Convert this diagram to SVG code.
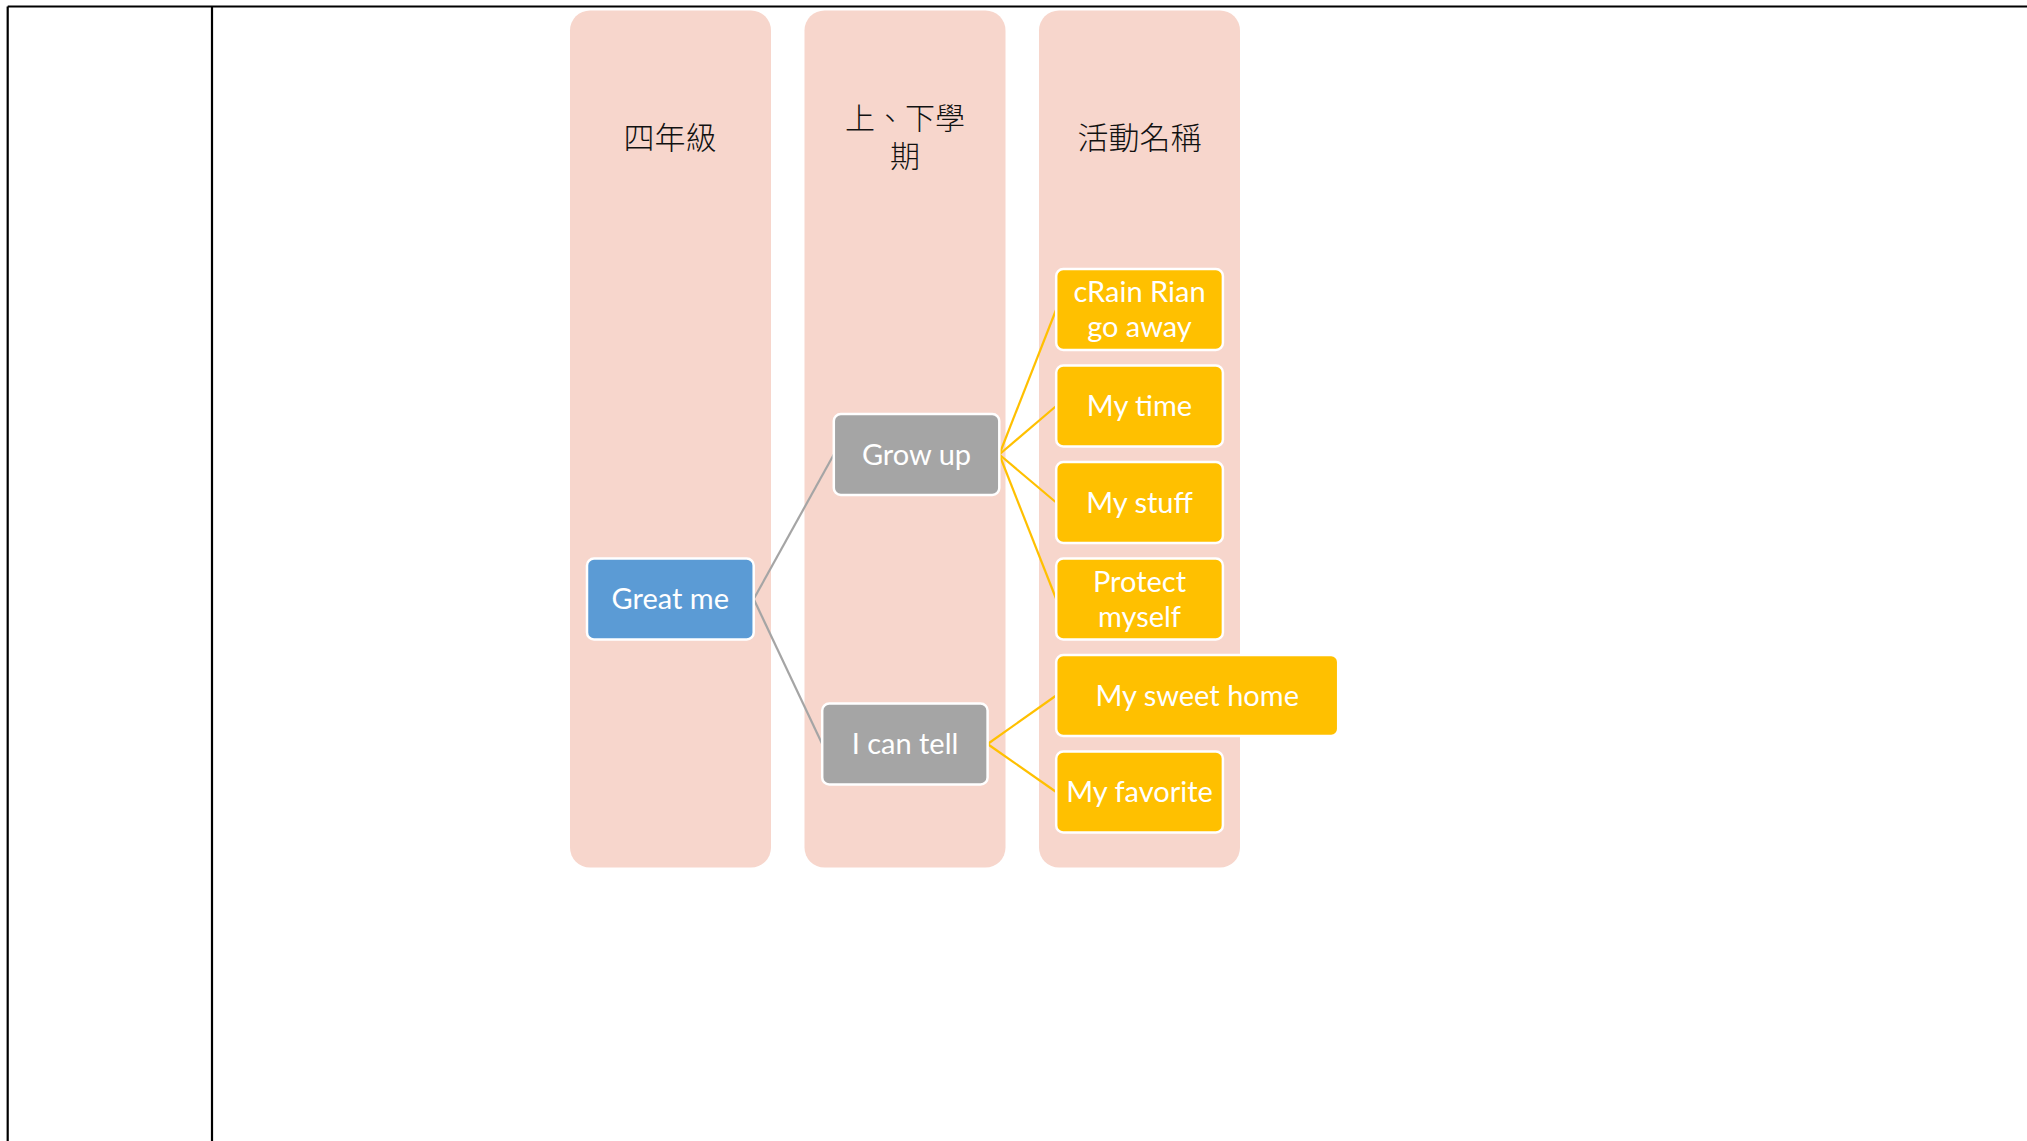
<svg xmlns="http://www.w3.org/2000/svg" width="2027" height="1141" viewBox="0 0 2027 1141">
<style>
.frame{stroke:#000;stroke-width:2.2;fill:none}
.col{fill:#F7D6CC}
.hdr{font-family:"Noto Sans CJK TC","Noto Sans CJK SC",sans-serif;font-size:31px;font-weight:300;fill:#111;text-anchor:middle}
.hdr2{font-family:"Noto Sans CJK TC","Noto Sans CJK SC",sans-serif;font-size:30px;font-weight:300;fill:#111;text-anchor:middle}
.node{stroke:#fff;stroke-width:2.5}
.blue{fill:#5B9BD5}
.gray{fill:#A5A5A5}
.gold{fill:#FFC000}
.lbl{font-family:Lato,"Open Sans",sans-serif;font-size:29px;fill:#fff;text-anchor:middle}
.cg{stroke:#A5A5A5;stroke-width:2.2;fill:none}
.co{stroke:#FFC000;stroke-width:2.2;fill:none}
</style>
<rect width="2027" height="1141" fill="#fff"/>
<g id="frame">
<line class="frame" x1="7.7" y1="6.5" x2="2027" y2="6.5"/>
<line class="frame" x1="7.7" y1="6.5" x2="7.7" y2="1141"/>
<line class="frame" x1="212" y1="6.5" x2="212" y2="1141"/>
</g>
<g id="columns">
<g id="col1"><rect class="col" x="570" y="10.5" width="201" height="857" rx="20"/><text class="hdr" x="670" y="149">四年級</text></g>
<g id="col2"><rect class="col" x="804.5" y="10.5" width="201" height="857" rx="20"/><text class="hdr2" x="905" y="129">上、下學</text><text class="hdr2" x="905" y="167">期</text></g>
<g id="col3"><rect class="col" x="1039" y="10.5" width="201" height="857" rx="20"/><text class="hdr" x="1139.5" y="149">活動名稱</text></g>
</g>
<g id="connectors">
<line class="cg" x1="753.7" y1="599" x2="833.8" y2="454.5"/>
<line class="cg" x1="753.7" y1="599" x2="822.2" y2="744"/>
<line class="co" x1="999.3" y1="454.5" x2="1056.2" y2="309.5"/>
<line class="co" x1="999.3" y1="454.5" x2="1056.2" y2="406"/>
<line class="co" x1="999.3" y1="454.5" x2="1056.2" y2="502.5"/>
<line class="co" x1="999.3" y1="454.5" x2="1056.2" y2="599"/>
<line class="co" x1="987.6" y1="744" x2="1056.2" y2="695.5"/>
<line class="co" x1="987.6" y1="744" x2="1056.2" y2="792"/>
</g>
<g id="great-me"><rect class="node blue" x="587" y="558.5" width="166.7" height="81" rx="7"/><text class="lbl" x="670.3" y="609">Great me</text></g>
<g id="grow-up"><rect class="node gray" x="833.8" y="414" width="165.5" height="81" rx="7"/><text class="lbl" x="916.5" y="464.5">Grow up</text></g>
<g id="i-can-tell"><rect class="node gray" x="822.2" y="703.5" width="165.4" height="81" rx="7"/><text class="lbl" x="905" y="754">I can tell</text></g>
<g id="crain"><rect class="node gold" x="1056.2" y="269" width="166.7" height="81" rx="7"/><text class="lbl" x="1139.5" y="302">cRain Rian</text><text class="lbl" x="1139.5" y="337">go away</text></g>
<g id="my-time"><rect class="node gold" x="1056.2" y="365.5" width="166.7" height="81" rx="7"/><text class="lbl" x="1139.5" y="416">My time</text></g>
<g id="my-stuff"><rect class="node gold" x="1056.2" y="462" width="166.7" height="81" rx="7"/><text class="lbl" x="1139.5" y="512.5">My stuff</text></g>
<g id="protect-myself"><rect class="node gold" x="1056.2" y="558.5" width="166.7" height="81" rx="7"/><text class="lbl" x="1139.5" y="591.5">Protect</text><text class="lbl" x="1139.5" y="626.5">myself</text></g>
<g id="my-sweet-home"><rect class="node gold" x="1056.2" y="655" width="282" height="81" rx="7"/><text class="lbl" x="1197.2" y="705.5">My sweet home</text></g>
<g id="my-favorite"><rect class="node gold" x="1056.2" y="751.5" width="166.7" height="81" rx="7"/><text class="lbl" x="1139.5" y="802">My favorite</text></g>
</svg>
